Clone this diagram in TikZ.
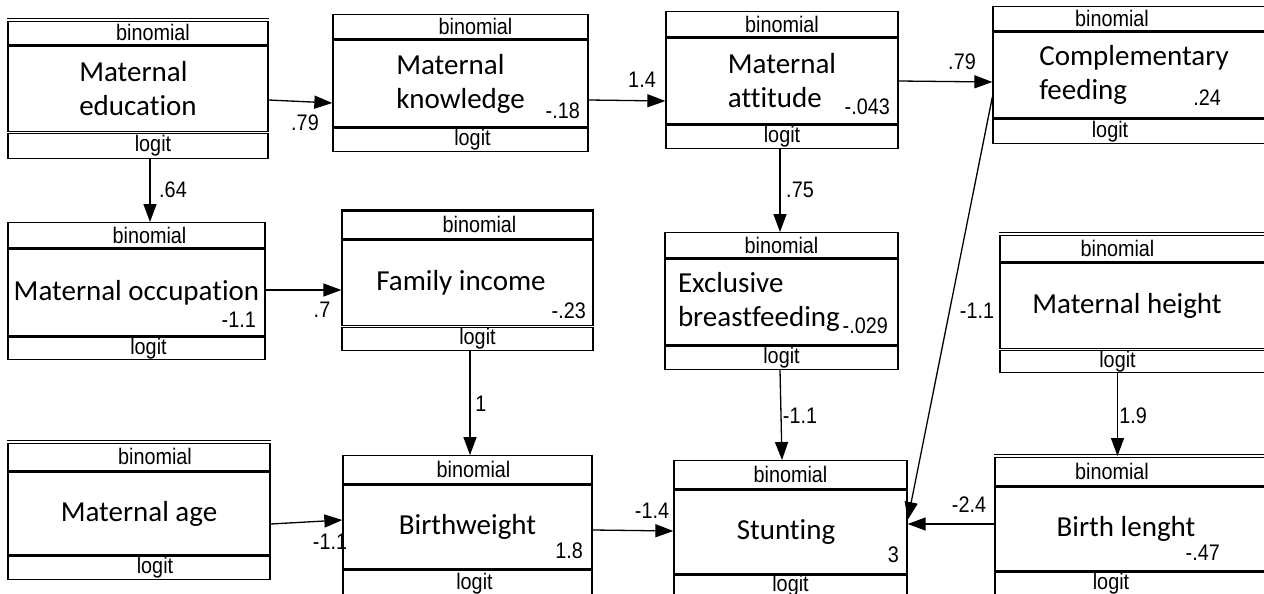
\documentclass[tikz,border=0pt]{standalone}
\usepackage{fontspec}
\setmainfont[Ligatures=NoCommon]{Carlito}
\newfontfamily\arialfont[FakeStretch=0.88]{Liberation Sans}
\usetikzlibrary{positioning,arrows.meta}

\begin{document}
\begin{tikzpicture}[x=1pt,y=-1pt,
		box/.style={draw, line width=1.3pt, inner sep=0pt},
		var/.style 2 args={box, minimum width=#1, minimum height=#2, font=\fontsize{29}{34}\selectfont},
		row/.style 2 args={box, minimum width=#1, minimum height=#2, font=\arialfont\fontsize{22.5}{24}\selectfont},
		lbl/.style={font=\arialfont\fontsize{22.5}{24}\selectfont, inner sep=0pt},
		coef/.style={lbl, anchor=base east},
		link/.style={line width=1.3pt, -{Triangle[length=18pt,width=13pt]}},
		thk/.style={line width=3pt},
		dbl/.style={double, line width=1pt, double distance=1.6pt}]
		\useasboundingbox (0,0) rectangle (1264,594);
		\clip (0,0) rectangle (1264,594);
		% top line
		\node[var={260}{86}, align=left] (medu) at (138,89) {Maternal\\education};
		\node[row={260}{24}, above=0pt of medu] (medut) {\hspace{30pt}binomial};
		\node[row={260}{25}, below=0pt of medu] (medub) {\hspace{30pt}logit};
		\node[var={255}{87}, align=left] (mknow) at (460.5,83.5) {Maternal\\knowledge};
		\node[row={255}{24}, above=0pt of mknow] (mknowt) {\hspace{30pt}binomial};
		\node[row={255}{23}, below=0pt of mknow] (mknowb) {\hspace{24pt}logit};
		\node[var={232}{86}, align=left] (matt) at (782,81) {Maternal\\attitude};
		\node[row={232}{25}, above=0pt of matt] (mattt) {binomial};
		\node[row={232}{23}, below=0pt of matt] (mattb) {logit};
		\node[var={282}{86}, align=left] (comp) at (1134,75) {Complementary\\feeding};
		\node[row={282}{24}, above=0pt of comp] (compt) {\hspace{-44pt}binomial};
		\node[row={282}{24}, below=0pt of comp] (compb) {\hspace{-48pt}logit};
		% middle line
		\node[var={257}{87}] (mocc) at (136.5,292.5) {Maternal occupation};
		\node[row={257}{25}, above=0pt of mocc] (mocct) {\hspace{26pt}binomial};
		\node[row={257}{22}, below=0pt of mocc] (moccb) {\hspace{24pt}logit};
		\node[var={251}{86}] (finc) at (467.5,283) {\hspace{-13pt}Family income};
		\node[row={251}{28}, above=0pt of finc] (finct) {\hspace{24pt}binomial};
		\node[row={251}{23}, below=0pt of finc] (fincb) {\hspace{20pt}logit};
		\node[var={233}{86}, align=left, text width=207pt, inner xsep=13pt] (ebf) at (781.5,302) {Exclusive\\breastfeeding};
		\node[row={233}{25}, above=0pt of ebf] (ebft) {binomial};
		\node[row={233}{23}, below=0pt of ebf] (ebfb) {logit};
		\node[var={275}{86}] (mhgt) at (1137.5,306) {\hspace{-21pt}Maternal height};
		\node[row={275}{27}, above=0pt of mhgt] (mhgtt) {\hspace{-40pt}binomial};
		\node[row={275}{22}, below=0pt of mhgt] (mhgtb) {\hspace{-40pt}logit};
		% bottom line
		\node[var={262}{83}] (mage) at (139,513.5) {Maternal age};
		\node[row={262}{28}, above=0pt of mage] (maget) {\hspace{32pt}binomial};
		\node[row={262}{23}, below=0pt of mage] (mageb) {\hspace{32pt}logit};
		\node[var={249}{84}] (bwt) at (467.5,527) {Birthweight};
		\node[row={249}{28}, above=0pt of bwt] (bwtt) {\hspace{12pt}binomial};
		\node[row={249}{26}, below=0pt of bwt] (bwtb) {\hspace{14pt}logit};
		\node[var={233}{84}] (stunt) at (790.5,532) {\hspace{-9pt}Stunting};
		\node[row={233}{28}, above=0pt of stunt] (stuntt) {binomial};
		\node[row={233}{20}, below=0pt of stunt] (stuntb) {logit};
		\node[var={280}{84}] (blen) at (1135,529) {\hspace{-18pt}Birth lenght};
		\node[row={280}{29}, above=0pt of blen] (blent) {\hspace{-46pt}binomial};
		\node[row={280}{23}, below=0pt of blen] (blenb) {\hspace{-48pt}logit};
		% heavier rules
		\draw[dbl] (medut.north west) -- (medut.north east);
		\draw[dbl] (medu.south west) -- (medu.south east);
		\draw[thk] (mknow.south west) -- (mknow.south east);
		\draw[thk] (matt.south west) -- (matt.south east);
		\draw[thk] (mocc.south west) -- (mocc.south east);
		\draw[thk] (finct.north west) -- (finct.north east);
		\draw[thk] (finc.north west) -- (finc.north east);
		\draw[dbl] (finc.south west) -- (finc.south east);
		\draw[dbl] (mhgtt.north west) -- (mhgtt.north east);
		\draw[dbl] (mhgt.south west) -- (mhgt.south east);
		\draw[dbl] (maget.north west) -- (maget.north east);
		\draw[thk] (bwt.south west) -- (bwt.south east);
		\draw[thk] (stunt.north west) -- (stunt.north east);
		\draw[thk] (stunt.south west) -- (stunt.south east);
		\draw[dbl] (blent.north west) -- (blent.north east);
		% intercepts
		\node[coef] (mknowc) at (580,118) {-.18};
		\node[coef] (mattc) at (890,114) {-.043};
		\node[coef] (compc) at (1221,106) {.24};
		\node[coef] (moccc) at (256,327) {-1.1};
		\node[coef] (fincc) at (586,318) {-.23};
		\node[coef] (ebfc) at (888,333) {-.029};
		\node[coef] (bwtc) at (583,558) {1.8};
		\node[coef] (stuntc) at (899,562) {3};
		\node[coef] (blenc) at (1220,560) {-.47};
		% paths
		\draw[link] ([yshift=-11pt]medu.east) -- ([yshift=-19.5pt]mknow.west);
		\draw[link] ([yshift=-16.5pt]mknow.east) -- ([yshift=-20pt]matt.west);
		\draw[link] (matt.east) -- ([yshift=-7pt]comp.west);
		\draw[link] ([xshift=12pt]medub.south) -- ([xshift=13.5pt]mocct.north);
		\draw[link] ([yshift=2.5pt]mocc.east) -- ([yshift=-7pt]finc.west);
		\draw[link] ([xshift=-2pt]mattb.south) -- ([xshift=-1.5pt]ebft.north);
		\draw[link] ([xshift=2.5pt]fincb.south) -- ([xshift=2.5pt]bwtt.north);
		\draw[link] ([yshift=-22pt]comp.west) -- ([yshift=12pt]stunt.east);
		\draw[link] ([xshift=-1.5pt]ebfb.south) -- ([xshift=-8.5pt]stuntt.north);
		\draw[link] ([xshift=-20pt]mhgtb.south) -- ([xshift=-17.5pt]blent.north);
		\draw[link] ([yshift=5pt]blen.west) -- ([yshift=8pt]stunt.east);
		\draw[link] ([yshift=-3pt]bwt.east) -- ([yshift=1pt]stunt.west);
		\draw[link] ([yshift=-10.5pt]mage.east) -- ([yshift=7pt]bwt.west);
		% path values
		\node[lbl] (w1) at (305,123) {.79};
		\node[lbl] (w2) at (642,80) {1.4};
		\node[lbl] (w3) at (962,62) {.79};
		\node[lbl] (w4) at (173,190) {.64};
		\node[lbl] (w5) at (322,310) {.7};
		\node[lbl] (w6) at (800,190) {.75};
		\node[lbl] (w7) at (481,404) {1};
		\node[lbl] (w8) at (977,311) {-1.1};
		\node[lbl] (w9) at (800,416) {-1.1};
		\node[lbl] (w10) at (1133,416) {1.9};
		\node[lbl] (w11) at (969,505) {-2.4};
		\node[lbl] (w12) at (652,511) {-1.4};
		\node[lbl] (w13) at (330,542) {-1.1};
\end{tikzpicture}
\end{document}
